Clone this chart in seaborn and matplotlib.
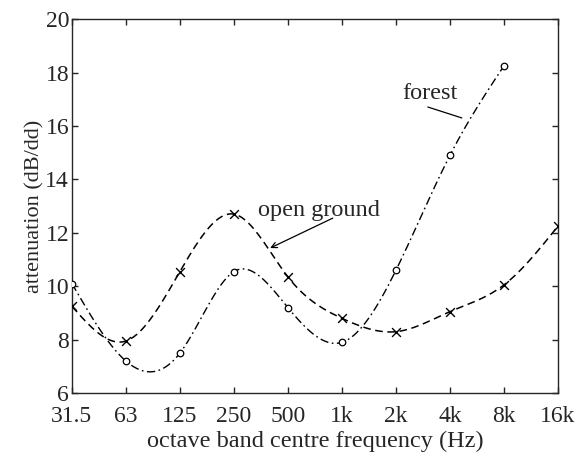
import numpy as np
import pandas as pd
import matplotlib
matplotlib.use("Agg")
import matplotlib.pyplot as plt
import seaborn as sns

bands = ["31.5", "63", "125", "250", "500", "1k", "2k", "4k", "8k", "16k"]
forest = [10.1, 7.2, 7.5, 10.55, 9.2, 7.9, 10.6, 14.9, 18.25]
open_ground = [9.25, 7.95, 10.55, 12.7, 10.35, 8.8, 8.3, 9.05, 10.05, 12.25]


def natural_spline(x, y, n=300):
    x = np.asarray(x, float)
    y = np.asarray(y, float)
    k = len(x)
    h = np.diff(x)
    A = np.zeros((k, k))
    b = np.zeros(k)
    A[0, 0] = 1
    A[-1, -1] = 1
    for i in range(1, k - 1):
        A[i, i - 1] = h[i - 1]
        A[i, i] = 2 * (h[i - 1] + h[i])
        A[i, i + 1] = h[i]
        b[i] = 3 * ((y[i + 1] - y[i]) / h[i] - (y[i] - y[i - 1]) / h[i - 1])
    c = np.linalg.solve(A, b)
    xs = np.linspace(x[0], x[-1], n)
    idx = np.clip(np.searchsorted(x, xs) - 1, 0, k - 2)
    dx = xs - x[idx]
    bb = (y[idx + 1] - y[idx]) / h[idx] - h[idx] * (2 * c[idx] + c[idx + 1]) / 3
    d = (c[idx + 1] - c[idx]) / (3 * h[idx])
    ys = y[idx] + bb * dx + c[idx] * dx ** 2 + d * dx ** 3
    return xs, ys


sns.set_style("ticks")
plt.rcParams["font.family"] = ["Liberation Serif", "DejaVu Serif"]
plt.rcParams["xtick.direction"] = "in"
plt.rcParams["ytick.direction"] = "in"

fig, ax = plt.subplots(figsize=(5.8, 4.55), dpi=100)
fig.subplots_adjust(left=0.124, right=0.962, top=0.958, bottom=0.136)

xf = np.arange(len(forest))
xo = np.arange(len(open_ground))
sxf, syf = natural_spline(xf, forest)
sxo, syo = natural_spline(xo, open_ground)

sns.lineplot(x=sxf, y=syf, ax=ax, color="black", lw=1.0, linestyle=(0, (6, 2.5, 1.2, 2.5)), sort=False)
sns.lineplot(x=sxo, y=syo, ax=ax, color="black", lw=1.1, linestyle=(0, (5, 3)), sort=False)
sns.scatterplot(x=xf, y=forest, ax=ax, marker="o", s=22, facecolor="white", edgecolor="black", linewidth=0.9, zorder=5)
sns.scatterplot(x=xo, y=open_ground, ax=ax, marker="x", s=40, color="black", linewidth=1.0, zorder=5)

ax.set_xlim(0, len(bands) - 1)
ax.set_ylim(6, 20)
ax.set_xticks(range(len(bands)))
ax.set_xticklabels(bands)
ax.set_yticks(range(6, 21, 2))
ax.tick_params(labelsize=17, length=4, width=1, top=True, right=True)
ax.tick_params(axis="x", pad=9)
ax.tick_params(axis="y", pad=2)
for s in ax.spines.values():
    s.set_linewidth(1.0)
    s.set_visible(True)

ax.set_xlabel("octave band centre frequency (Hz)", fontsize=17.5, labelpad=3)
ax.set_ylabel("attenuation (dB/dd)", fontsize=16, labelpad=1)

ax.text(4.57, 12.85, "open ground", fontsize=17.5, ha="center", va="center")
ax.annotate("", xy=(3.67, 11.43), xytext=(4.83, 12.55),
            arrowprops=dict(arrowstyle="->", color="black", lw=0.9, shrinkA=0, shrinkB=0))
ax.text(6.63, 17.22, "forest", fontsize=17.5, ha="center", va="center")
ax.annotate("", xy=(7.22, 16.30), xytext=(6.59, 16.71),
            arrowprops=dict(arrowstyle="-", color="black", lw=0.9, shrinkA=0, shrinkB=0))

fig.savefig("out.png", dpi=100)
